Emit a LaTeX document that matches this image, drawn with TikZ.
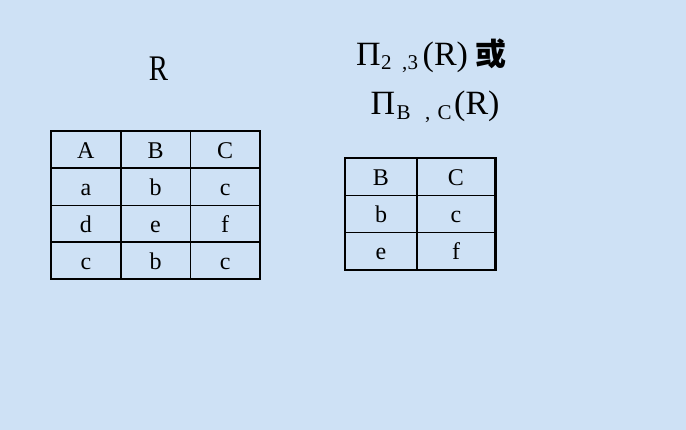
\documentclass[tikz,border=0pt]{standalone}
\usepackage{fontspec}
\setmainfont{Liberation Serif}
\newfontfamily\cjk{Noto Sans CJK SC}
\definecolor{slidebg}{RGB}{206,225,245}
\tikzset{
  cell/.style={inner sep=0pt, anchor=base, font=\fontsize{24}{28}\selectfont},
  title/.style={inner sep=0pt, anchor=base west, font=\fontsize{34}{38}\selectfont},
  sub/.style={inner sep=0pt, anchor=base west, font=\fontsize{21}{24}\selectfont},
  outer/.style={line width=2.6pt},
  inner/.style={line width=1.2pt}
}
\begin{document}
\begin{tikzpicture}[x=1pt,y=-1pt]
  \fill[slidebg] (0,0) rectangle (686,430);
  % titles
  \node (rname) at (158.5,81) [title, anchor=base, font=\fontsize{36}{40}\selectfont] {\scalebox{0.8}[1]{R}};
  \node (pinum) at (356,66) [title] {Π};
  \node (subtwo) at (381,69.5) [sub] {2};
  \node (subcomma) at (402,69.5) [sub] {,};
  \node (subthree) at (407.5,69.5) [sub] {3};
  \node (argnum) at (422.5,66) [title] {(R)};
  \node (orword) at (475,66) [title, font=\cjk\bfseries\fontsize{31}{34}\selectfont] {或};
  \node (piatt) at (370.5,114.7) [title] {Π};
  \node (subb) at (396.5,119.5) [sub] {B};
  \node (subcommab) at (425,119.5) [sub] {,};
  \node (subc) at (437.5,119.5) [sub] {C};
  \node (argatt) at (454,114.7) [title] {(R)};
  % table R
  \draw [inner] (121,131) -- (121,279);
  \draw [inner] (190.5,131) -- (190.5,279);
  \draw [inner] (51,168) -- (260,168);
  \draw [inner] (51,205.5) -- (260,205.5);
  \draw [inner] (51,242) -- (260,242);
  \draw [outer] (51,131) rectangle (260,279);
  \foreach \t [count=\i] in {A,B,C} \node (ra\i) at ({51+(\i-0.5)*69.67},159) [cell] {\t};
  \foreach \t [count=\i] in {a,b,c} \node (rb\i) at ({51+(\i-0.5)*69.67},196) [cell] {\t};
  \foreach \t [count=\i] in {d,e,f} \node (rc\i) at ({51+(\i-0.5)*69.67},233) [cell] {\t};
  \foreach \t [count=\i] in {c,b,c} \node (rd\i) at ({51+(\i-0.5)*69.67},270) [cell] {\t};
  % projected table
  \draw [inner] (417,158) -- (417,270);
  \draw [inner] (345,195.7) -- (495.5,195.7);
  \draw [inner] (345,232.7) -- (495.5,232.7);
  \draw [outer] (345,158) rectangle (495.5,270);
  \node (pa1) at (381,186) [cell] {B};
  \node (pa2) at (456,186) [cell] {C};
  \node (pb1) at (381,223) [cell] {b};
  \node (pb2) at (456,223) [cell] {c};
  \node (pc1) at (381,260) [cell] {e};
  \node (pc2) at (456,260) [cell] {f};
\end{tikzpicture}
\end{document}
